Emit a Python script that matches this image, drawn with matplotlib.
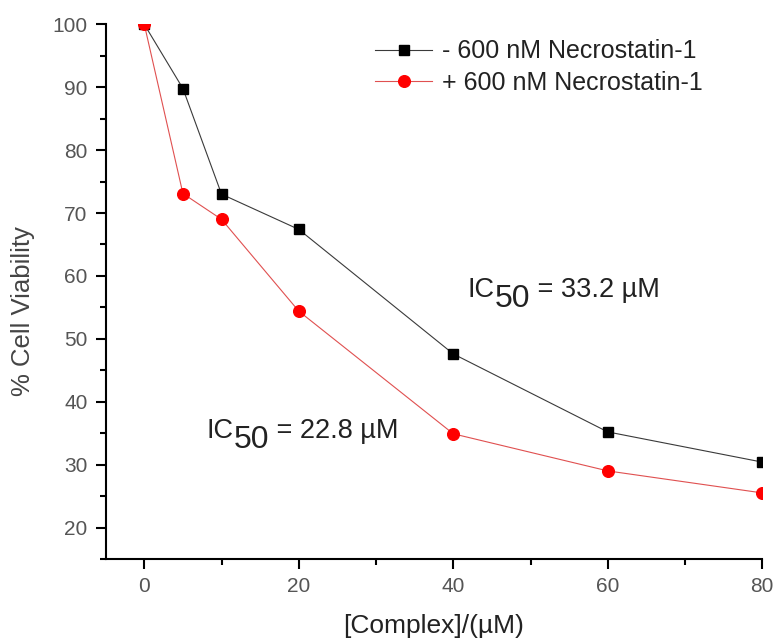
import matplotlib
matplotlib.use("Agg")
import matplotlib.pyplot as plt
from matplotlib.ticker import MultipleLocator

plt.rcParams['font.family'] = ['Liberation Sans', 'DejaVu Sans']

# concentrations of complex (uM)
conc = [0, 5, 10, 20, 40, 60, 80]
# % cell viability without / with necrostatin-1
viab_minus = [100, 89.8, 73.0, 67.4, 47.6, 35.2, 30.4]
viab_plus = [100, 73.1, 69.0, 54.4, 34.9, 29.0, 25.5]

labels = ['- 600 nM Necrostatin-1', '+ 600 nM Necrostatin-1']
ic50 = [33.2, 22.8]

fig = plt.figure(figsize=(7.77, 6.41), dpi=100)
ax = fig.add_axes([0.136, 0.128, 0.845, 0.834])

ax.plot(conc, viab_minus, color='#3a3a3a', lw=0.8, marker='s', ms=7.2,
        mfc='black', mec='black', label=labels[0], zorder=3)
ax.plot(conc, viab_plus, color='#e05050', lw=0.8, marker='o', ms=8.4,
        mfc='#ff0000', mec='#ff0000', label=labels[1], zorder=4)

ax.set_xlim(-5, 80)
ax.set_ylim(15, 100)
ax.xaxis.set_major_locator(MultipleLocator(20))
ax.xaxis.set_minor_locator(MultipleLocator(10))
ax.yaxis.set_major_locator(MultipleLocator(10))
ax.yaxis.set_minor_locator(MultipleLocator(5))
ax.set_yticks(range(20, 101, 10))

for side in ['top', 'right']:
    ax.spines[side].set_visible(False)
for side in ['left', 'bottom']:
    ax.spines[side].set_linewidth(1.5)

ax.tick_params(which='major', direction='out', length=7, width=1.5,
               labelsize=15, labelcolor='#555555', pad=6)
ax.tick_params(which='minor', direction='out', length=4, width=1.5)

ax.set_xlabel('[Complex]/(\u00b5M)', fontsize=19, color='#222222', va='center')
ax.xaxis.set_label_coords(0.5, -0.126)
ax.set_ylabel('% Cell Viability', fontsize=18.5, color='#444444', va='center')
ax.yaxis.set_label_coords(-0.126, 0.464)

leg = ax.legend(loc='upper left', bbox_to_anchor=(0.41, 0.972), frameon=False,
                fontsize=18, handlelength=2.3, handletextpad=0.4,
                labelspacing=0.3, borderpad=0, borderaxespad=0)
for t in leg.get_texts():
    t.set_color('#222222')


def ic50_label(x, y, value):
    # "IC" + big subscript "50" + value, chained together
    t1 = ax.text(x, y, 'IC', fontsize=19.5, color='#222222', va='baseline')
    t2 = ax.annotate('50', xy=(1, 0), xycoords=t1, xytext=(0, -8),
                     textcoords='offset points', fontsize=23,
                     color='#222222', va='bottom')
    ax.annotate(f' = {value} \u00b5M', xy=(1, 0), xycoords=(t2, t1),
                fontsize=19.5, color='#222222', va='bottom')


ic50_label(41.9, 56.7, ic50[0])
ic50_label(8.1, 34.3, ic50[1])

fig.savefig('out.png', dpi=100)
